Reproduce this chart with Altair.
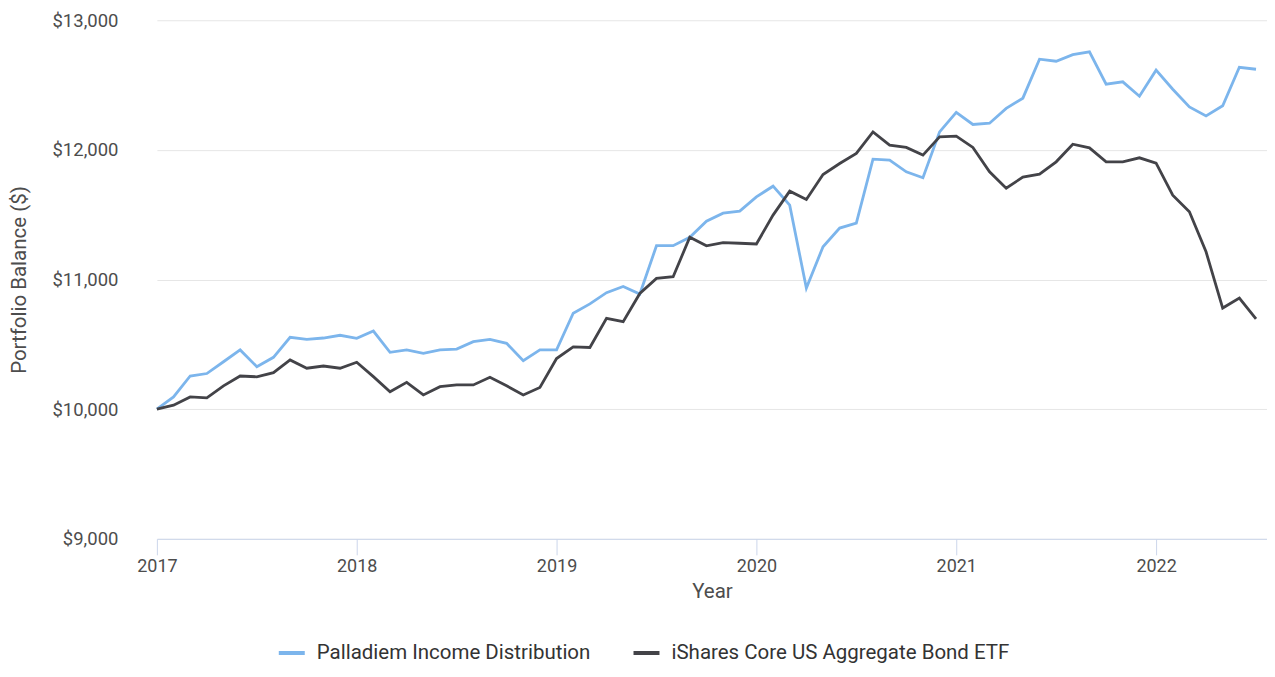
import altair as alt
import pandas as pd

series_names = ["Palladiem Income Distribution", "iShares Core US Aggregate Bond ETF"]
series_colors = ["#7cb5ec", "#434348"]

# monthly observations, Jan 2017 .. Jul 2022
month_index = list(range(67))

palladiem = [
    10000, 10095, 10256, 10275, 10366, 10457, 10328, 10400, 10555, 10539,
    10549, 10570, 10547, 10603, 10439, 10457, 10431, 10457, 10464, 10521,
    10539, 10508, 10374, 10457, 10457, 10740, 10812, 10899, 10946, 10888,
    11261, 11261, 11326, 11450, 11512, 11528, 11638, 11720, 11574, 10934,
    11253, 11397, 11435, 11929, 11921, 11831, 11785, 12139, 12289, 12196,
    12206, 12320, 12399, 12700, 12684, 12735, 12756, 12507, 12525, 12414,
    12615, 12468, 12332, 12262, 12340, 12637, 12622,
]

ishares = [
    10000, 10031, 10095, 10088, 10180, 10256, 10250, 10282, 10380, 10316,
    10333, 10316, 10362, 10251, 10135, 10207, 10110, 10174, 10187, 10187,
    10246, 10180, 10110, 10168, 10391, 10481, 10476, 10701, 10675, 10893,
    11009, 11022, 11326, 11260, 11284, 11280, 11274, 11497, 11682, 11618,
    11810, 11895, 11973, 12139, 12037, 12019, 11960, 12101, 12106, 12019,
    11831, 11705, 11790, 11813, 11908, 12044, 12016, 11908, 11908, 11939,
    11898, 11651, 11523, 11214, 10780, 10857, 10696,
]

year_ticks = [2017, 2018, 2019, 2020, 2021, 2022]
y_ticks = [9000, 10000, 11000, 12000, 13000]

rows = []
for name, vals in zip(series_names, [palladiem, ishares]):
    for i, v in zip(month_index, vals):
        rows.append({"year": 2017 + i / 12.0, "value": v, "series": name})
df = pd.DataFrame(rows)

text_color = "#4d4d4d"

chart = (
    alt.Chart(df)
    .mark_line(strokeWidth=2.8)
    .encode(
        x=alt.X(
            "year:Q",
            scale=alt.Scale(domain=[2017, 2022.555], nice=False, zero=False),
            axis=alt.Axis(
                title="Year",
                values=year_ticks,
                format="d",
                grid=False,
                domain=True,
                domainColor="#ccd6eb",
                domainWidth=1,
                ticks=True,
                tickColor="#ccd6eb",
                tickSize=16,
                tickWidth=1,
                labelPadding=3,
                labelFlush=False,
                labelFontSize=18,
                labelColor=text_color,
                titleFontSize=20.5,
                titleFontWeight="normal",
                titleColor=text_color,
                titleY=53,
                titleBaseline="middle",
            ),
        ),
        y=alt.Y(
            "value:Q",
            scale=alt.Scale(domain=[9000, 13000], nice=False, zero=False),
            axis=alt.Axis(
                title="Portfolio Balance ($)",
                values=y_ticks,
                format="$,.0f",
                grid=True,
                gridColor="#e6e6e6",
                gridWidth=1,
                domain=False,
                ticks=False,
                tickSize=0,
                labelPadding=39,
                labelFontSize=18.5,
                labelColor=text_color,
                titleFontSize=20.5,
                titleFontWeight="normal",
                titleColor=text_color,
                titleX=-137,
                titleY=259.5,
                titleAlign="center",
                titleBaseline="middle",
            ),
        ),
        color=alt.Color(
            "series:N",
            sort=series_names,
            scale=alt.Scale(domain=series_names, range=series_colors),
            legend=alt.Legend(
                title=None,
                orient="none",
                direction="horizontal",
                legendX=120,
                legendY=618,
                symbolType="stroke",
                symbolSize=676,
                symbolStrokeWidth=4,
                labelOffset=10,
                labelLimit=600,
                columnPadding=35,
                labelFontSize=20.5,
                labelColor="#333333",
            ),
        ),
    )
    .properties(
        width=1111,
        height=519,
        autosize=alt.AutoSizeParams(type="none"),
        padding={"left": 149, "top": 12, "right": 0, "bottom": 125},
    )
    .configure(font="Roboto")
    .configure_view(stroke=None)
)

chart.save("out.html", embed_options={"renderer": "svg", "actions": False})
